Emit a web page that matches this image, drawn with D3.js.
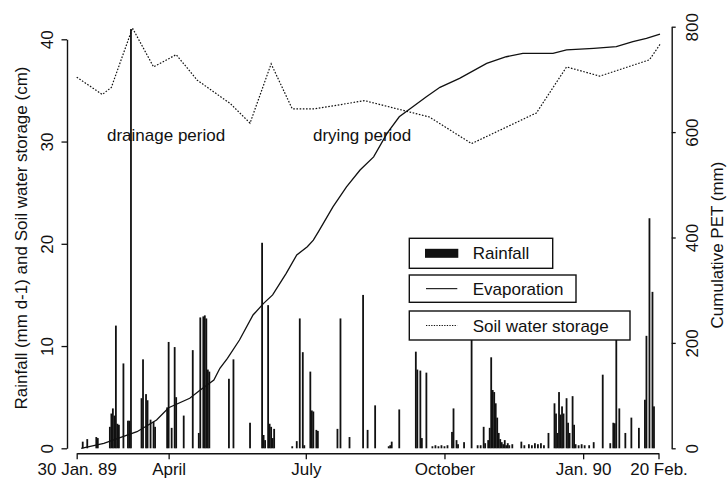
<!DOCTYPE html>
<html>
<head>
<meta charset="utf-8">
<script src="https://cdn.jsdelivr.net/npm/d3@7/dist/d3.min.js"></script>
<style>
  html, body { margin: 0; padding: 0; background: #fff; }
  svg { display: block; }
  text { font-family: "Liberation Sans", Arial, Helvetica, sans-serif; fill: #111; }
</style>
</head>
<body>
<svg id="chart" width="727" height="480"></svg>
<script>
// ---- Data (days counted from 30 Jan. 1989) ----
const rainDay = [4,7,13,14,22,23,24,25,26,27,28,31,34,35,36,43,44,46,47,49,51,52,60,61,63,65,66,71,77,81,82,84,85,86,87,88,
  101,104,115,123,124,125,127,128,129,130,131,143,146,148,150,151,155,156,157,159,160,173,175,181,
  190,193,198,207,208,209,214,225,226,228,229,232,236,238,240,242,244,246,249,250,252,253,257,262,266,268,270,271,
  273,274,275,276,277,278,279,280,281,282,283,284,285,286,287,289,295,297,300,302,304,306,308,310,313,
  317,318,319,320,321,322,323,325,326,327,329,330,331,333,335,337,340,343,349,354,356,357,358,360,364,368,373,377,378,380,382,383];
const rainMm = [0.65,0.9,1.1,1.0,2.1,3.4,3.9,3.2,12.0,2.4,2.3,8.3,2.7,2.7,41.0,4.9,8.7,5.3,4.7,2.8,2.6,2.1,4.0,10.4,2.0,9.9,5.0,3.2,9.6,1.5,12.8,12.9,13.0,12.7,7.7,7.5,
  6.8,8.7,2.5,20.1,1.3,0.8,14.0,2.4,2.1,1.0,1.9,0.2,0.7,12.7,9.4,0.3,7.5,3.7,3.6,1.8,1.7,1.9,12.7,1.1,
  15.0,1.8,4.2,0.2,0.3,0.65,3.8,9.45,7.7,7.6,1.0,7.4,0.2,0.3,0.2,0.3,0.2,0.3,1.6,3.9,0.8,0.4,0.6,10.7,0.3,0.3,2.1,0.5,
  0.8,2.0,8.9,5.7,5.5,4.4,3.0,1.5,0.9,0.6,0.4,0.8,0.3,0.5,0.3,0.4,0.65,0.3,0.4,0.3,0.5,0.4,0.5,0.3,1.5,
  4.4,3.4,1.5,5.5,3.3,4.1,3.4,4.9,2.5,1.5,5.1,2.3,0.4,0.3,0.4,0.3,0.3,0.6,7.2,0.5,2.5,2.45,10.7,3.9,1.5,3.0,2.0,4.75,11.0,22.5,15.3,4.1];

const evapDay = [3,18,40,53,61,75,82,91,95,100,108,117,124,130,139,146,153,157,161,170,179,188,197,206,214,223,232,241,254,272,285,296,316,325,343,358,369,378,387];
const evapMm  = [0,9.5,31.5,53.7,77,95,110.6,129.6,151.8,170.8,205.5,253,275,291,332,367,382.5,395,414,458,496,528,553,598,629,648,667,685,702,730.5,743,749.5,749.5,756,759,762,771.5,778,786];

const soilDay = [0,17,23,37,51,66,80,102,115,129,143,158,191,234,262,305,325,347,380,387];
const soilCm  = [36.3,34.6,35.3,41.1,37.3,38.5,36.0,33.7,31.8,37.6,33.2,33.2,34.0,32.4,29.8,32.8,37.3,36.4,38.0,39.5];

const tickDates  = ["1989-01-30","1989-04-01","1989-07-01","1989-10-01","1990-01-01","1990-02-20"];
const tickLabels = ["30 Jan. 89","April","July","October","Jan. 90","20 Feb."];
const leftTicks  = [0,10,20,30,40];
const rightTicks = [0,200,400,600,800];
const legendLabels = ["Rainfall","Evaporation","Soil water storage"];

// ---- Setup ----
const start = new Date(1989, 0, 30);
const toDate = d => d3.timeDay.offset(start, d);
const parse = d3.timeParse("%Y-%m-%d");

const svg = d3.select("#chart");
const x = d3.scaleTime().domain([start, new Date(1990, 1, 20)]).range([76.7, 658.5]);
const yL = d3.scaleLinear().domain([0, 40]).range([448.3, 39.3]);
const yR = d3.scaleLinear().domain([0, 800]).range([448.3, 26.7]);

// ---- Rainfall bars ----
const rain = rainDay.map((d, i) => ({ d: toDate(d), v: rainMm[i] }));
svg.append("g").selectAll("rect").data(rain).join("rect")
  .attr("x", d => x(d.d) - 0.9)
  .attr("width", 1.8)
  .attr("y", d => yL(d.v))
  .attr("height", d => yL(0) - yL(d.v))
  .attr("fill", "#111");

// ---- Evaporation (cumulative PET) ----
const evap = evapDay.map((d, i) => ({ d: toDate(d), v: evapMm[i] }));
svg.append("path").datum(evap)
  .attr("fill", "none").attr("stroke", "#111").attr("stroke-width", 1.3)
  .attr("d", d3.line().x(d => x(d.d)).y(d => yR(d.v)));

// ---- Soil water storage ----
const soil = soilDay.map((d, i) => ({ d: toDate(d), v: soilCm[i] }));
svg.append("path").datum(soil)
  .attr("fill", "none").attr("stroke", "#111").attr("stroke-width", 1.2)
  .attr("stroke-dasharray", "1.6,1.6")
  .attr("d", d3.line().x(d => x(d.d)).y(d => yL(d.v)));

// ---- Axes ----
const styleAxis = g => {
  g.select(".domain").attr("stroke", "#111").attr("stroke-width", 1.4);
  g.selectAll(".tick line").attr("stroke", "#111").attr("stroke-width", 1.3);
  g.selectAll("text").style("font-size", "17px").attr("fill", "#111");
};

svg.append("g").attr("transform", "translate(0,453.3)")
  .call(d3.axisBottom(x).tickValues(tickDates.map(parse))
    .tickFormat((d, i) => tickLabels[i]).tickSize(6).tickSizeOuter(0))
  .call(styleAxis)
  .call(g => g.selectAll("text").attr("y", 0).attr("dy", "22.2px"));

svg.append("g").attr("transform", "translate(67,0)")
  .call(d3.axisLeft(yL).tickValues(leftTicks).tickSize(5.5).tickSizeOuter(0))
  .call(styleAxis)
  .call(g => g.selectAll("text").attr("transform", "rotate(-90)")
    .attr("text-anchor", "middle").attr("x", 0).attr("y", -14).attr("dy", 0));

svg.append("g").attr("transform", "translate(671.7,0)")
  .call(d3.axisRight(yR).tickValues(rightTicks).tickSize(4).tickSizeOuter(0))
  .call(styleAxis)
  .call(g => g.selectAll("text").attr("transform", "rotate(-90)")
    .attr("text-anchor", "middle").attr("x", 0).attr("y", 26.5).attr("dy", 0));

svg.selectAll("g").attr("font-family", null).attr("font-size", null);

// ---- Axis titles ----
svg.append("text").attr("transform", "translate(26.5,238) rotate(-90)")
  .attr("text-anchor", "middle").style("font-size", "17px")
  .text("Rainfall (mm d-1) and Soil water storage (cm)");
svg.append("text").attr("transform", "translate(722.5,245) rotate(-90)")
  .attr("text-anchor", "middle").style("font-size", "17px")
  .text("Cumulative PET (mm)");

// ---- Annotations ----
svg.append("text").attr("x", 107).attr("y", 141).style("font-size", "17px").text("drainage period");
svg.append("text").attr("x", 313).attr("y", 141).style("font-size", "17px").text("drying period");

// ---- Legend ----
const boxes = [
  { x: 409.3, y: 238.3, w: 143.4, h: 30 },
  { x: 409.3, y: 275, w: 166.7, h: 27.3 },
  { x: 409.3, y: 311, w: 220.7, h: 29 }
];
const lg = svg.append("g");
boxes.forEach((b, i) => {
  lg.append("rect").attr("x", b.x).attr("y", b.y).attr("width", b.w).attr("height", b.h)
    .attr("fill", "#fff").attr("stroke", "#111").attr("stroke-width", 1.4);
  const cy = b.y + b.h / 2;
  if (i === 0) {
    lg.append("rect").attr("x", 425).attr("y", cy - 4.5).attr("width", 33.3).attr("height", 9).attr("fill", "#111");
  } else {
    lg.append("line").attr("x1", 426).attr("x2", 457.3).attr("y1", cy).attr("y2", cy)
      .attr("stroke", "#111").attr("stroke-width", i === 1 ? 1.1 : 1)
      .attr("stroke-dasharray", i === 1 ? null : "1.3,1.3");
  }
  lg.append("text").attr("x", 472.7).attr("y", cy + 6).style("font-size", "17px").text(legendLabels[i]);
});
</script>
</body>
</html>
